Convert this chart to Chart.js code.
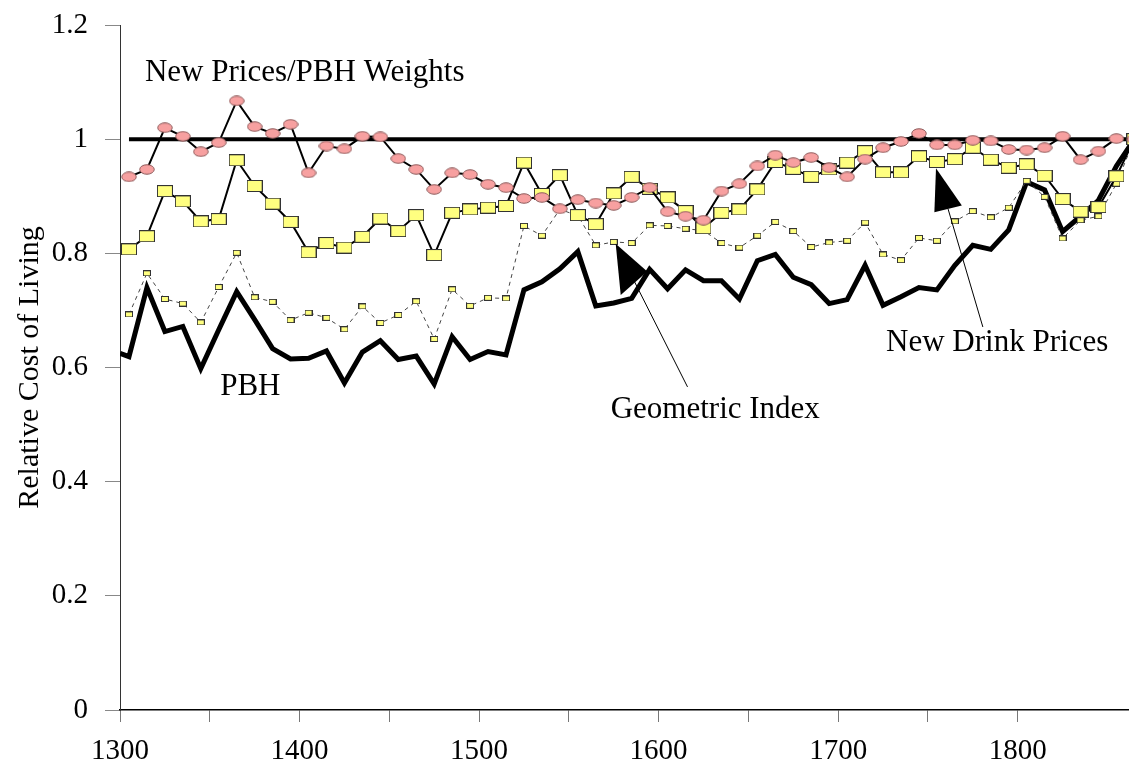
<!DOCTYPE html>
<html>
<head>
<meta charset="utf-8">
<script src="https://cdn.jsdelivr.net/npm/chart.js@4.4.1/dist/chart.umd.min.js"></script>
<style>
  html, body { margin: 0; padding: 0; background: #fff; }
</style>
</head>
<body>
<canvas id="grafica" width="1129" height="772"></canvas>
<script>
// decade mid-points
const years = [1305, 1315, 1325, 1335, 1345, 1355, 1365, 1375, 1385, 1395,
               1405, 1415, 1425, 1435, 1445, 1455, 1465, 1475, 1485, 1495,
               1505, 1515, 1525, 1535, 1545, 1555, 1565, 1575, 1585, 1595,
               1605, 1615, 1625, 1635, 1645, 1655, 1665, 1675, 1685, 1695,
               1705, 1715, 1725, 1735, 1745, 1755, 1765, 1775, 1785, 1795,
               1805, 1815, 1825, 1835, 1845, 1855, 1865]

const newPricesPbhWeights = [0.934, 0.947, 1.020, 1.005, 0.978, 0.994, 1.067, 1.022, 1.010, 1.026,
                             0.941, 0.988, 0.983, 1.005, 1.004, 0.966, 0.947, 0.912, 0.941, 0.938,
                             0.921, 0.915, 0.896, 0.898, 0.878, 0.894, 0.888, 0.884, 0.898, 0.915,
                             0.873, 0.865, 0.858, 0.909, 0.922, 0.953, 0.972, 0.959, 0.968, 0.950,
                             0.934, 0.965, 0.985, 0.996, 1.010, 0.990, 0.990, 0.998, 0.997, 0.982,
                             0.981, 0.985, 1.005, 0.964, 0.979, 1.001, 1.000]

const newDrinkPrices = [0.807, 0.830, 0.909, 0.891, 0.856, 0.860, 0.963, 0.918, 0.887, 0.855,
                        0.802, 0.818, 0.810, 0.829, 0.861, 0.839, 0.867, 0.797, 0.871, 0.877,
                        0.880, 0.883, 0.959, 0.904, 0.937, 0.867, 0.851, 0.905, 0.934, 0.913,
                        0.898, 0.874, 0.844, 0.871, 0.877, 0.912, 0.960, 0.948, 0.934, 0.947,
                        0.959, 0.979, 0.942, 0.942, 0.970, 0.960, 0.965, 0.985, 0.964, 0.950,
                        0.956, 0.936, 0.895, 0.873, 0.881, 0.935, 1.000]

const geometricIndex = [0.693, 0.765, 0.720, 0.712, 0.679, 0.741, 0.801, 0.723, 0.715, 0.683,
                        0.696, 0.687, 0.667, 0.707, 0.678, 0.692, 0.716, 0.650, 0.737, 0.708,
                        0.722, 0.721, 0.848, 0.831, 0.877, 0.866, 0.814, 0.820, 0.818, 0.849,
                        0.848, 0.843, 0.840, 0.818, 0.810, 0.831, 0.855, 0.839, 0.811, 0.819,
                        0.822, 0.854, 0.798, 0.788, 0.827, 0.822, 0.856, 0.874, 0.863, 0.880,
                        0.927, 0.899, 0.826, 0.858, 0.865, 0.922, 1.000]

const pbhYears = [1300].concat(years)
const pbh = [0.625,
             0.619, 0.740, 0.663, 0.672, 0.598, 0.666, 0.733, 0.684, 0.633, 0.615,
             0.616, 0.629, 0.573, 0.627, 0.647, 0.614, 0.620, 0.571, 0.654, 0.614,
             0.628, 0.622, 0.736, 0.750, 0.773, 0.803, 0.708, 0.713, 0.721, 0.772,
             0.738, 0.771, 0.752, 0.752, 0.720, 0.787, 0.798, 0.758, 0.745, 0.712,
             0.719, 0.779, 0.709, 0.724, 0.740, 0.736, 0.779, 0.814, 0.807, 0.841,
             0.925, 0.911, 0.838, 0.865, 0.893, 0.953, 1.000]

const baseYears = [1305, 1865]
const baseValues = [1, 1]

// text labels and arrows, in data units
const notas = [
  { text: 'New Prices/PBH Weights', x: 1313.9, y: 1.116 },
  { text: 'PBH', x: 1355.8, y: 0.566 },
  { text: 'Geometric Index', x: 1573.3, y: 0.525 },
  { text: 'New Drink Prices', x: 1726.7, y: 0.643 }
]
const flechas = [
  { tip: [1576.1, 0.817], b1: [1578.9, 0.727], b2: [1593.7, 0.768], from: [1586.3, 0.752], to: [1616.1, 0.566] },
  { tip: [1754.5, 0.949], b1: [1753.6, 0.872], b2: [1768.9, 0.884], from: [1761.2, 0.878], to: [1780.6, 0.671] }
]

function puntos(xs, ys) {
  return xs.map((x, i) => ({ x: x, y: ys[i] }))
}

function elipse(w, h, fill, stroke) {
  const c = document.createElement('canvas')
  c.width = w; c.height = h
  const g = c.getContext('2d')
  g.beginPath()
  g.ellipse(w / 2, h / 2, w / 2 - 0.75, h / 2 - 0.75, 0, 0, Math.PI * 2)
  g.fillStyle = fill
  g.fill()
  g.lineWidth = 1
  g.strokeStyle = stroke
  g.stroke()
  return c
}

function cuadro(w, h, fill, stroke) {
  const c = document.createElement('canvas')
  c.width = w; c.height = h
  const g = c.getContext('2d')
  g.fillStyle = fill
  g.fillRect(0, 0, w, h)
  g.lineWidth = 1
  g.strokeStyle = stroke
  g.strokeRect(0.5, 0.5, w - 1, h - 1)
  return c
}

const serif = 'Liberation Serif'

const anotaciones = {
  id: 'anotaciones',
  afterDatasetsDraw(chart) {
    const ctx = chart.ctx
    const sx = chart.scales.x, sy = chart.scales.y
    const px = p => [sx.getPixelForValue(p[0]), sy.getPixelForValue(p[1])]
    ctx.save()
    ctx.fillStyle = '#000'
    ctx.strokeStyle = '#000'
    flechas.forEach(f => {
      const a = px(f.from), b = px(f.to)
      ctx.lineWidth = 1
      ctx.beginPath()
      ctx.moveTo(a[0], a[1])
      ctx.lineTo(b[0], b[1])
      ctx.stroke()
      const t = px(f.tip), p1 = px(f.b1), p2 = px(f.b2)
      ctx.beginPath()
      ctx.moveTo(t[0], t[1])
      ctx.lineTo(p1[0], p1[1])
      ctx.lineTo(p2[0], p2[1])
      ctx.closePath()
      ctx.fill()
    })
    ctx.font = '31px "' + serif + '"'
    ctx.textAlign = 'left'
    ctx.textBaseline = 'middle'
    notas.forEach(n => {
      ctx.fillText(n.text, sx.getPixelForValue(n.x), sy.getPixelForValue(n.y))
    })
    ctx.restore()
  }
}

function renderChart() {
  const ctx = document.getElementById('grafica').getContext('2d')
  new Chart(ctx, {
    type: 'line',
    data: {
      datasets: [
        {
          label: 'New Prices/PBH Weights',
          data: puntos(years, newPricesPbhWeights),
          borderColor: '#000',
          borderWidth: 2,
          pointStyle: elipse(16, 11, '#f7a0a0', '#8c5a5a'),
          pointRadius: 7
        },
        {
          label: 'New Drink Prices',
          data: puntos(years, newDrinkPrices),
          borderColor: '#000',
          borderWidth: 2,
          pointStyle: cuadro(16, 12, '#ffff80', '#333'),
          pointRadius: 7
        },
        {
          label: 'Geometric Index',
          data: puntos(years, geometricIndex),
          borderColor: '#444',
          borderWidth: 1,
          borderDash: [4, 4],
          pointStyle: cuadro(8, 6, '#ffff80', '#333'),
          pointRadius: 4
        },
        {
          label: 'PBH',
          data: puntos(pbhYears, pbh),
          borderColor: '#000',
          borderWidth: 5,
          pointRadius: 0
        },
        {
          label: 'base',
          data: puntos(baseYears, baseValues),
          borderColor: '#000',
          borderWidth: 4,
          pointRadius: 0
        }
      ]
    },
    options: {
      responsive: false,
      animation: false,
      devicePixelRatio: 1,
      layout: { autoPadding: false, padding: { top: 25, right: 0, bottom: 0, left: 0 } },
      elements: { line: { tension: 0, fill: false } },
      plugins: {
        legend: { display: false },
        tooltip: { enabled: false },
        title: { display: false }
      },
      scales: {
        x: {
          type: 'linear',
          min: 1300,
          max: 1862,
          border: { color: '#000', width: 1.5 },
          grid: { drawOnChartArea: false, tickLength: 12, color: '#777' },
          ticks: {
            stepSize: 50,
            autoSkip: false,
            maxRotation: 0,
            padding: 12,
            color: '#000',
            font: { family: serif, size: 29 },
            callback: v => (v % 100 === 0 ? String(v) : '')
          },
          afterBuildTicks: s => { s.ticks = s.ticks.filter(t => t.value % 50 === 0) },
          afterFit: s => { s.height = 62; s.paddingRight = 0 }
        },
        y: {
          min: 0,
          max: 1.2,
          border: { color: '#333', width: 1 },
          grid: { drawOnChartArea: false, tickLength: 15, color: '#888' },
          ticks: {
            stepSize: 0.2,
            padding: 17,
            color: '#000',
            font: { family: serif, size: 29 },
            callback: v => String(Math.round(v * 10) / 10)
          },
          title: {
            display: true,
            text: 'Relative Cost of Living',
            color: '#000',
            font: { family: serif, size: 30 },
            padding: { top: 12, bottom: 0 }
          },
          afterFit: s => { s.width = 120; s.paddingTop = 0; s.paddingBottom = 0 }
        }
      }
    },
    plugins: [anotaciones]
  })
}

renderChart()
</script>
</body>
</html>
